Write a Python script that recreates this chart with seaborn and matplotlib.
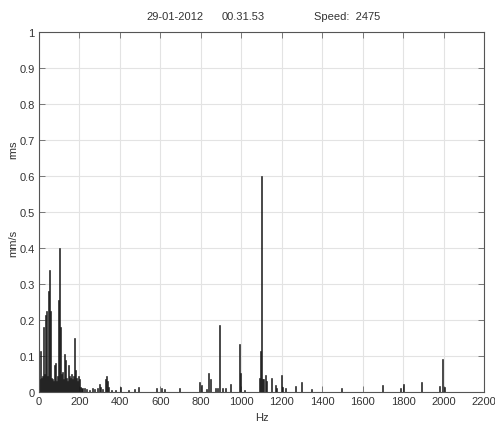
import numpy as np
import matplotlib
matplotlib.use("Agg")
import matplotlib.pyplot as plt
import seaborn as sns

# spectrum lines (Hz, mm/s rms)
freq_hz = [2.5, 7.5, 12.5, 17.5, 22.5, 27.5, 32.5, 37.5, 42.5, 47.5,
           52.5, 57.5, 62.5, 67.5, 72.5, 77.5, 82.5, 87.5, 92.5, 97.5,
           102.5, 107.5, 112.5, 117.5, 122.5, 127.5, 132.5, 137.5, 142.5, 147.5,
           152.5, 157.5, 162.5, 167.5, 172.5, 177.5, 182.5, 187.5, 192.5, 197.5,
           202.5, 207.5, 212.5, 222.5, 232.5, 247.5, 262.5, 272.5, 287.5, 297.5,
           302.5, 312.5, 327.5, 332.5, 337.5, 342.5, 357.5, 377.5, 402.5, 442.5,
           472.5, 492.5, 582.5, 607.5, 622.5, 692.5, 792.5, 802.5, 827.5, 837.5,
           847.5, 872.5, 882.5, 892.5, 907.5, 922.5, 947.5, 992.5, 997.5, 1017.5,
           1087.5, 1092.5, 1097.5, 1102.5, 1107.5, 1117.5, 1122.5, 1147.5, 1167.5, 1172.5,
           1197.5, 1202.5, 1217.5, 1267.5, 1297.5, 1347.5, 1497.5, 1697.5, 1787.5, 1802.5,
           1892.5, 1977.5, 1992.5, 2002.5]
rms = [0.035, 0.115, 0.04, 0.045, 0.18, 0.05, 0.215, 0.225, 0.045, 0.28,
       0.34, 0.225, 0.04, 0.035, 0.03, 0.075, 0.08, 0.03, 0.045, 0.255,
       0.40, 0.18, 0.05, 0.055, 0.035, 0.105, 0.09, 0.04, 0.03, 0.075,
       0.045, 0.04, 0.05, 0.035, 0.045, 0.15, 0.06, 0.04, 0.03, 0.045,
       0.035, 0.015, 0.01, 0.012, 0.008, 0.006, 0.01, 0.008, 0.012, 0.022,
       0.015, 0.008, 0.035, 0.045, 0.03, 0.015, 0.006, 0.005, 0.015, 0.005,
       0.008, 0.015, 0.01, 0.01, 0.008, 0.01, 0.029, 0.02, 0.007, 0.053,
       0.036, 0.01, 0.01, 0.186, 0.012, 0.01, 0.022, 0.133, 0.053, 0.005,
       0.038, 0.115, 0.60, 0.035, 0.035, 0.047, 0.03, 0.04, 0.02, 0.012,
       0.047, 0.015, 0.01, 0.018, 0.029, 0.008, 0.01, 0.02, 0.01, 0.022,
       0.029, 0.018, 0.092, 0.015]

header = ["29-01-2012", "00.31.53", "Speed:  2475"]
x_ticks = list(range(0, 2201, 200))
y_ticks = [0, 0.1, 0.2, 0.3, 0.4, 0.5, 0.6, 0.7, 0.8, 0.9, 1]
y_tick_labels = ["0", "0.1", "0.2", "0.3", "0.4", "0.5", "0.6", "0.7", "0.8", "0.9", "1"]

sns.set_style("whitegrid")
plt.rcParams['font.family'] = ['Liberation Sans', 'DejaVu Sans']

fig = plt.figure(figsize=(4.95, 4.27), dpi=100)
ax = fig.add_axes([0.0788, 0.0796, 0.8992, 0.8431])

sns.histplot(x=freq_hz, weights=rms, binwidth=5, binrange=(0, 2205),
             color="#1a1a1a", alpha=1, edgecolor="#1a1a1a", linewidth=0.4, ax=ax)

ax.set_xlim(0, 2200)
ax.set_ylim(0, 1)
ax.set_xticks(x_ticks)
ax.set_yticks(y_ticks)
ax.set_yticklabels(y_tick_labels)
ax.grid(True, color="#e3e3e3", linewidth=0.8)
ax.set_axisbelow(True)
ax.tick_params(direction="in", length=4, width=0.6, color="#666666",
               labelsize=8, labelcolor="#333333", top=True, right=True,
               bottom=True, left=True, pad=3)
for s in ax.spines.values():
    s.set_color("#555555")
    s.set_linewidth(0.8)

ax.set_xlabel("Hz", fontsize=8, color="#333333", labelpad=4)
ax.set_ylabel("")
fig.text(13 / 495, 1 - 243 / 427, "mm/s", rotation=90, fontsize=8,
         color="#333333", ha="center", va="center")
fig.text(13 / 495, 1 - 150 / 427, "rms", rotation=90, fontsize=8,
         color="#333333", ha="center", va="center")

for label, px in zip(header, [175, 243, 347]):
    fig.text(px / 495, 1 - 17 / 427, label, fontsize=8, color="#333333",
             ha="center", va="center")

fig.savefig("out.png", dpi=100, facecolor="white")
